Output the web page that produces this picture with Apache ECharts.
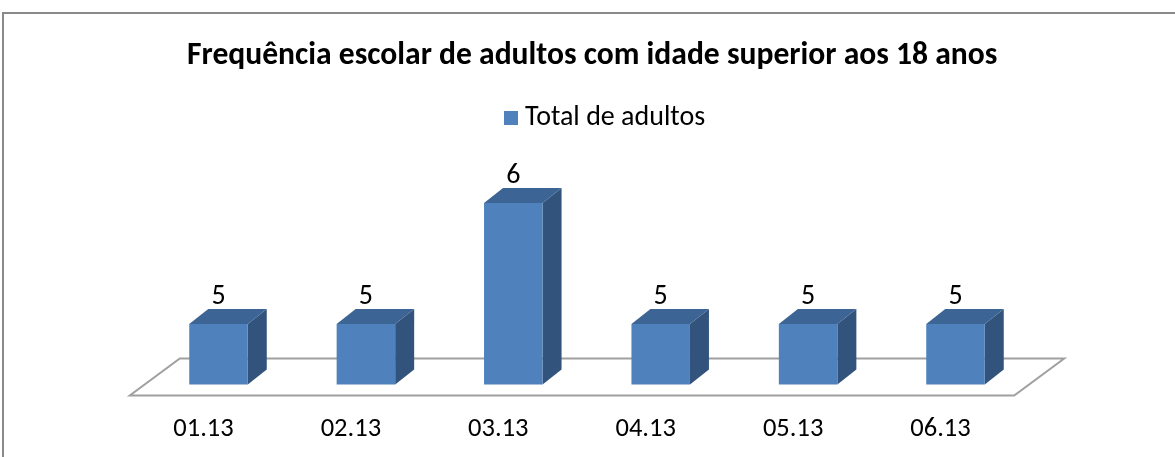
<!DOCTYPE html>
<html>
<head>
<meta charset="utf-8">
<script src="https://cdn.jsdelivr.net/npm/echarts@6/dist/echarts.min.js"></script>
<style>html,body{margin:0;padding:0;background:#fff}#c{width:1175px;height:457px}</style>
</head>
<body>
<div id="c"></div>
<script>
const titleText = 'Frequência escolar de adultos com idade superior aos 18 anos';
const seriesName = 'Total de adultos';
const categories = ['01.13', '02.13', '03.13', '04.13', '05.13', '06.13'];
const values = [5, 5, 6, 5, 5, 5];
const yMin = 4.5, yMax = 7;

const FONT = "Carlito, 'Liberation Sans Narrow', 'Liberation Sans', sans-serif";
const cFront = '#4f81bd', cTop = '#3c6494', cSide = '#31537c';
const DX = 19, DY = 15;

const chart = echarts.init(document.getElementById('c'), null, {renderer: 'canvas'});
chart.setOption({
  backgroundColor: '#fff',
  animation: false,
  title: {
    text: titleText, left: 182, top: 35,
    textStyle: {fontFamily: FONT, fontSize: 31.6, fontWeight: 'bold', color: '#000'}
  },
  legend: {
    data: [seriesName], top: 99, left: 499,
    icon: 'rect', itemWidth: 14, itemHeight: 14, itemGap: 6,
    textStyle: {fontFamily: FONT, fontSize: 28, color: '#000', padding: [0, 0, 0, 2]},
    selectedMode: false
  },
  grid: {left: 144.8, right: 145.8, top: 82, bottom: 72.5},
  xAxis: {
    type: 'category', data: categories, boundaryGap: true,
    axisLine: {show: false}, axisTick: {show: false}, splitLine: {show: false},
    axisLabel: {margin: 31, fontFamily: FONT, fontSize: 26.5, color: '#000', padding: [0, 30, 0, 0]}
  },
  yAxis: {type: 'value', min: yMin, max: yMax, show: false},
  graphic: [{
    type: 'rect', silent: true, z: -10,
    shape: {x: 3, y: 13, width: 1400, height: 700},
    style: {fill: 'none', stroke: '#8a8a8a', lineWidth: 2}
  }],
  series: [
    {
      type: 'custom', name: 'floor', silent: true, z: 1,
      data: [[0, yMin]],
      renderItem: function (params, api) {
        const cs = params.coordSys;
        const x0 = cs.x, x1 = cs.x + cs.width, yb = cs.y + cs.height;
        return {
          type: 'polygon',
          shape: {points: [[x0 - 15, yb + 11], [x1 - 15, yb + 11], [x1 + 35, yb - 26], [x0 + 35, yb - 26]]},
          style: {fill: 'none', stroke: '#a0a0a0', lineWidth: 2}
        };
      }
    },
    {
      type: 'custom', name: seriesName, z: 2,
      itemStyle: {color: cFront},
      data: values.map((v, i) => [i, v]),
      renderItem: function (params, api) {
        const i = api.value(0), v = api.value(1);
        const top = api.coord([i, v]);
        const base = api.coord([i, yMin]);
        const bw = api.size([1, 0])[0] * 0.397;
        const x0 = top[0] - bw / 2, x1 = top[0] + bw / 2;
        const yt = top[1], yb = base[1];
        return {
          type: 'group',
          children: [
            {type: 'polygon', shape: {points: [[x1, yt], [x1 + DX, yt - DY], [x1 + DX, yb - DY], [x1, yb]]}, style: {fill: cSide}},
            {type: 'polygon', shape: {points: [[x0, yt], [x0 + DX, yt - DY], [x1 + DX, yt - DY], [x1, yt]]}, style: {fill: cTop}},
            {type: 'rect', shape: {x: x0, y: yt, width: bw, height: yb - yt}, style: {fill: cFront}},
            {type: 'text', style: {text: String(v), x: top[0], y: yt - 27, align: 'center', verticalAlign: 'middle', fontFamily: FONT, fontSize: 28, fill: '#000'}}
          ]
        };
      }
    }
  ]
});
</script>
</body>
</html>
